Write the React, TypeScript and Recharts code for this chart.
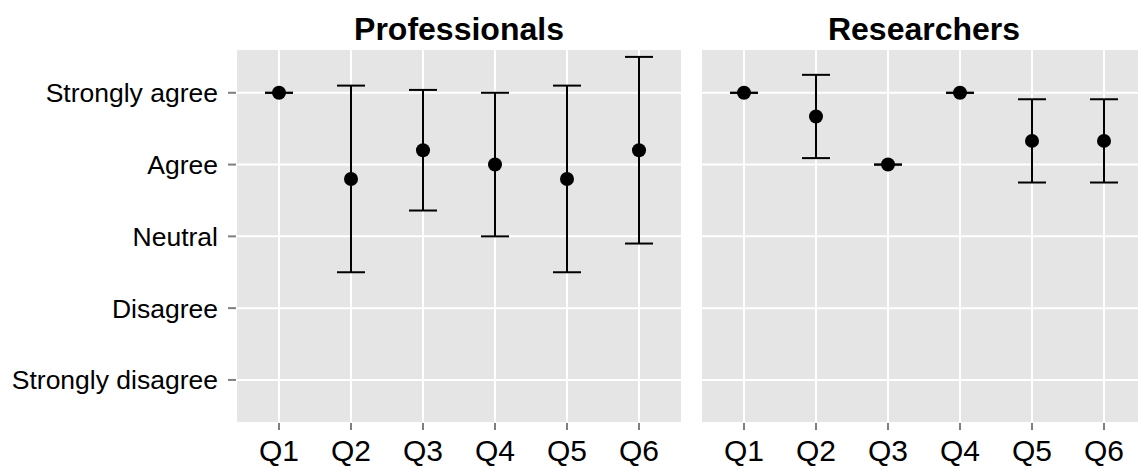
import React from 'react';
import { ComposedChart, Line, ErrorBar, XAxis, YAxis, CartesianGrid } from 'recharts';

const questions = ['Q1', 'Q2', 'Q3', 'Q4', 'Q5', 'Q6'];
const likertLabels = ['Strongly disagree', 'Disagree', 'Neutral', 'Agree', 'Strongly agree'];

const profMean = [5, 3.8, 4.2, 4.0, 3.8, 4.2];
const profErr = [0, 1.3, 0.84, 1.0, 1.3, 1.3];

const resMean = [5, 4.67, 4.0, 5, 4.33, 4.33];
const resErr = [0, 0.58, 0, 0, 0.58, 0.58];

// error bars as [below, above] so that zero-width bars still draw their caps
const profData = questions.map((q, i) => ({ q, mean: profMean[i], err: [profErr[i], profErr[i]] }));
const resData = questions.map((q, i) => ({ q, mean: resMean[i], err: [resErr[i], resErr[i]] }));

const FONT = '"Liberation Sans", Arial, Helvetica, sans-serif';
const Y_DOMAIN = [0.4, 5.61];
const Y_TICKS = [1, 2, 3, 4, 5];

function Panel({ data, showY }: { data: any[]; showY: boolean }) {
  return (
    <ComposedChart
      width={showY ? 690 : 460}
      height={467}
      data={data}
      margin={showY ? { top: 49, right: 8, bottom: 0, left: 0 } : { top: 49, right: 3, bottom: 0, left: 11 }}
      style={{ fontFamily: FONT }}
    >
      <CartesianGrid fill="#E5E5E5" stroke="#fff" strokeWidth={2} />
      <XAxis
        dataKey="q"
        type="category"
        padding={{ left: 43, right: 43 }}
        height={44}
        axisLine={false}
        tickSize={7}
        tickMargin={10}
        tickLine={{ stroke: '#7f7f7f', strokeWidth: 2 }}
        tick={{ fill: '#000', fontSize: 30 }}
        interval={0}
      />
      <YAxis
        type="number"
        domain={Y_DOMAIN}
        ticks={Y_TICKS}
        allowDataOverflow
        hide={!showY}
        width={showY ? 236 : 0}
        axisLine={false}
        tickSize={8}
        tickMargin={10}
        tickLine={{ stroke: '#7f7f7f', strokeWidth: 2 }}
        tick={{ fill: '#000', fontSize: 26.5 }}
        tickFormatter={(v: number) => likertLabels[v - 1]}
      />
      <Line
        dataKey="mean"
        stroke="none"
        isAnimationActive={false}
        dot={{ r: 7, fill: '#000', stroke: 'none' }}
        activeDot={false}
      >
        <ErrorBar dataKey="err" width={14} stroke="#000" strokeWidth={2} direction="y" />
      </Line>
    </ComposedChart>
  );
}

export default function App() {
  return (
    <div
      style={{
        position: 'fixed',
        left: 0,
        top: 0,
        width: 1138,
        height: 467,
        overflow: 'hidden',
        background: '#fff',
      }}
    >
      <div style={{ position: 'absolute', left: 0, top: 0 }}>
        <Panel data={profData} showY />
      </div>
      <div style={{ position: 'absolute', left: 690, top: 0 }}>
        <Panel data={resData} showY={false} />
      </div>
      <svg width={1138} height={467} style={{ position: 'absolute', left: 0, top: 0, pointerEvents: 'none' }}>
        <text x={459} y={40} textAnchor="middle" fontFamily={FONT} fontWeight="bold" fontSize={32} fill="#000">
          Professionals
        </text>
        <text x={924} y={40} textAnchor="middle" fontFamily={FONT} fontWeight="bold" fontSize={32} fill="#000">
          Researchers
        </text>
      </svg>
    </div>
  );
}
